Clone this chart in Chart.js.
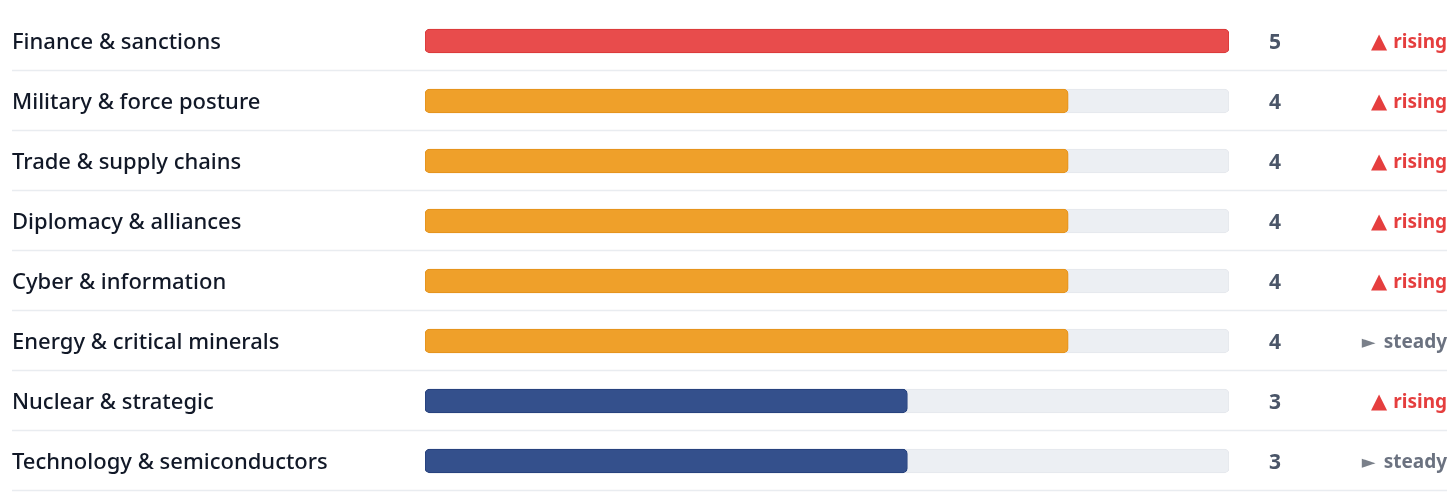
<!DOCTYPE html>
<html>
<head>
<meta charset="utf-8">
<script src="https://cdn.jsdelivr.net/npm/chart.js@4"></script>
<style>
  html, body { margin: 0; padding: 0; background: #ffffff; }
  #wrap { width: 1456px; height: 492px; }
</style>
</head>
<body>
<div id="wrap"><canvas id="riskChart" width="1456" height="492"></canvas></div>
<script>
var categories = [
    'Finance & sanctions',
    'Military & force posture',
    'Trade & supply chains',
    'Diplomacy & alliances',
    'Cyber & information',
    'Energy & critical minerals',
    'Nuclear & strategic',
    'Technology & semiconductors'
];
var scores = [5, 4, 4, 4, 4, 4, 3, 3];
var trends = ['rising', 'rising', 'rising', 'rising', 'rising', 'steady', 'rising', 'steady'];
var maxScore = 5;

var FONT = '"Noto Sans", "Open Sans", sans-serif';

function fillFor(v) {
    if (v >= 5) return '#e84c4c';
    if (v >= 4) return '#efa02a';
    return '#34508c';
}
function edgeFor(v) {
    if (v >= 5) return '#d93636';
    if (v >= 4) return '#e3911a';
    return '#233e7a';
}

// separators, score numbers and trend labels on the right
var rowExtras = {
    id: 'rowExtras',
    afterDatasetsDraw: function(chart) {
        var ctx = chart.ctx;
        var y = chart.scales.y;
        var step = y.getPixelForValue(1) - y.getPixelForValue(0);
        ctx.save();
        categories.forEach(function(cat, i) {
            var cy = y.getPixelForValue(i);
            // separator line under the row
            ctx.strokeStyle = '#e9ecf0';
            ctx.lineWidth = 1.5;
            ctx.beginPath();
            ctx.moveTo(12, Math.round(cy + step / 2) - 0.5);
            ctx.lineTo(1447, Math.round(cy + step / 2) - 0.5);
            ctx.stroke();

            // score
            ctx.font = 'bold 21px ' + FONT;
            ctx.fillStyle = '#4a5568';
            ctx.textAlign = 'center';
            ctx.textBaseline = 'middle';
            ctx.fillText(String(scores[i]), 1275, cy + 2);

            // trend
            var rising = trends[i] === 'rising';
            ctx.font = 'bold 19px ' + FONT;
            ctx.textAlign = 'right';
            ctx.fillStyle = rising ? '#e53e3e' : '#6b7280';
            ctx.fillText(trends[i], 1447, cy + 2);
            var w = ctx.measureText(trends[i]).width;
            if (rising) {
                ctx.font = '21px "DejaVu Sans", sans-serif';
                ctx.fillStyle = '#e53e3e';
                ctx.fillText('\u25B2', 1447 - w - 6, cy + 2);
            } else {
                ctx.font = '18px "DejaVu Sans", sans-serif';
                ctx.fillStyle = '#7a808a';
                ctx.fillText('\u25BA', 1447 - w - 8, cy + 2);
            }
        });
        ctx.restore();
    }
};

var ctx = document.getElementById('riskChart').getContext('2d');
var riskChart = new Chart(ctx, {
    type: 'bar',
    data: {
        labels: categories,
        datasets: [{
            label: 'Score',
            data: scores,
            backgroundColor: scores.map(fillFor),
            borderColor: scores.map(edgeFor),
            borderWidth: 1,
            borderRadius: 5,
            borderSkipped: false,
            barThickness: 24,
            grouped: false
        }, {
            label: 'Track',
            data: categories.map(function() { return maxScore; }),
            backgroundColor: '#eceff3',
            borderColor: '#e4e7ec',
            borderWidth: 1,
            borderRadius: 5,
            borderSkipped: false,
            barThickness: 24,
            grouped: false
        }]
    },
    options: {
        indexAxis: 'y',
        responsive: false,
        animation: false,
        devicePixelRatio: 1,
        layout: {
            padding: { left: 12, right: 227, top: 11, bottom: 1 }
        },
        plugins: {
            legend: { display: false },
            tooltip: { enabled: false }
        },
        scales: {
            x: {
                display: false,
                min: 0,
                max: maxScore
            },
            y: {
                grid: { display: false },
                border: { display: false },
                ticks: {
                    crossAlign: 'far',
                    padding: 0,
                    labelOffset: 2,
                    color: '#111827',
                    font: { family: FONT, size: 22, weight: '500' }
                },
                afterFit: function(scale) {
                    scale.width = 413;
                    scale.paddingTop = 0;
                    scale.paddingBottom = 0;
                }
            }
        }
    },
    plugins: [rowExtras]
});
</script>
</body>
</html>
